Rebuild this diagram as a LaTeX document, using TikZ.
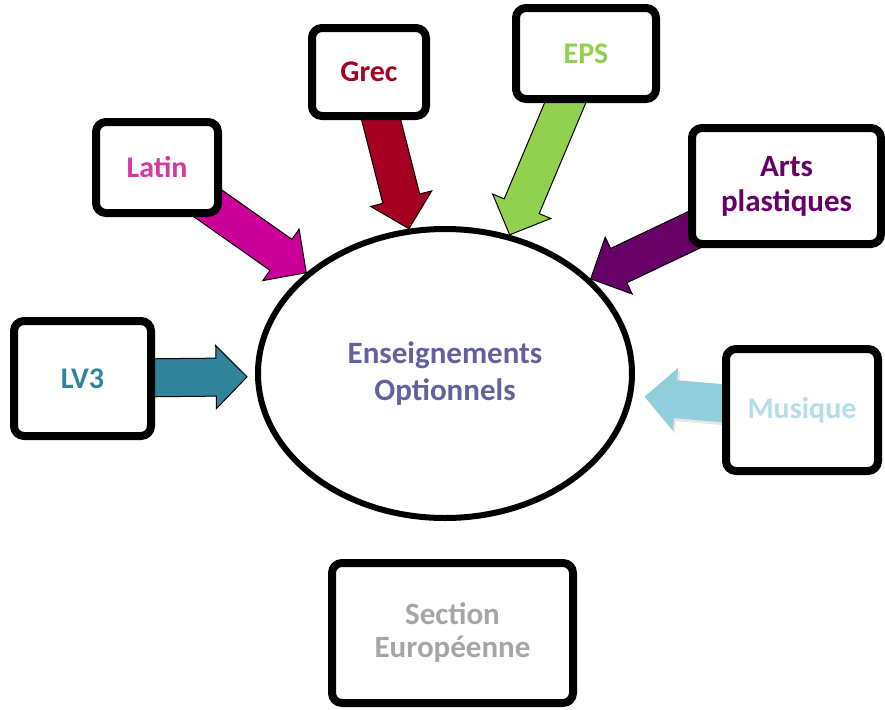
\documentclass[tikz,border=0pt]{standalone}
\usepackage{fontspec}
\setmainfont{Carlito}
\usetikzlibrary{calc,shapes.geometric,shadows}

\definecolor{latin}{RGB}{204,0,153}
\definecolor{latintxt}{RGB}{214,56,160}
\definecolor{grec}{RGB}{165,0,33}
\definecolor{eps}{RGB}{146,208,80}
\definecolor{arts}{RGB}{102,0,102}
\definecolor{lvtrois}{RGB}{49,133,155}
\definecolor{musique}{RGB}{146,205,220}
\definecolor{musiquetxt}{RGB}{183,222,232}
\definecolor{section}{RGB}{166,166,166}
\definecolor{ens}{RGB}{100,98,158}

\pgfdeclarelayer{front}
\pgfsetlayers{main,front}

\tikzset{
  boite/.style={draw, line width=4pt, rounded corners=5pt, fill=white,
    inner sep=0pt, align=center, font=\fontsize{15}{18}\selectfont\bfseries},
  centre/.style={ellipse, draw, line width=3pt, fill=white, inner sep=0pt,
    minimum width=187pt, minimum height=144.5pt, align=center, text=ens,
    font=\fontsize{15.5}{17.5}\selectfont\bfseries},
}

% block arrow: [options]{from}{tip}{colour}
\newcommand{\fleche}[4][draw=black]{%
  \path (#2) coordinate (a) (#3) coordinate (b);
  \path ($(b)!15.5pt!(a)$) coordinate (h);
  \filldraw[fill=#4, line width=0.5pt, #1]
    ($(a)!9.5pt!90:(b)$) -- ($(h)!9.5pt!90:(b)$) -- ($(h)!15.75pt!90:(b)$)
    -- (b) -- ($(h)!15.75pt!-90:(b)$) -- ($(h)!9.5pt!-90:(b)$)
    -- ($(a)!9.5pt!-90:(b)$) -- cycle;
}

\begin{document}
\begin{tikzpicture}[x=0.5pt,y=-0.5pt]
  \useasboundingbox (0,0) rectangle (885,709);
  \node[centre] (ensopt) at (445,373.5) {Enseignements\\[1pt]Optionnels};
  \begin{pgfonlayer}{front}
    \node[boite, minimum width=61pt, minimum height=45.5pt, text=latintxt] (latinbox) at (157,167.5) {Latin};
    \node[boite, minimum width=57pt, minimum height=44pt, text=grec] (grecbox) at (369,72) {Grec};
    \node[boite, minimum width=70pt, minimum height=45.5pt, text=eps] (epsbox) at (586,53.5) {EPS};
    \node[boite, minimum width=94.5pt, minimum height=58pt, text=arts, font=\fontsize{15.5}{17.5}\selectfont\bfseries] (artsbox) at (786.5,186) {Arts\\plastiques};
    \node[boite, minimum width=68.5pt, minimum height=57.5pt, text=lvtrois] (lvbox) at (82.5,378.5) {LV3};
    \node[boite, minimum width=76pt, minimum height=61pt, text=musiquetxt] (musbox) at (802,410) {Musique};
    \node[boite, minimum width=120.5pt, minimum height=70pt, text=section, font=\fontsize{15.5}{16.5}\selectfont\bfseries] (secbox) at (452.5,633) {Section\\Européenne};
  \end{pgfonlayer}
  \fleche{latinbox.center}{ensopt.144}{latin}
  \fleche{grecbox.center}{ensopt.104}{grec}
  \fleche{epsbox.center}{ensopt.65}{eps}
  \fleche{artsbox.center}{ensopt.33}{arts}
  \fleche{lvbox.center}{[xshift=-4pt]ensopt.181}{lvtrois}
  \fleche[draw=none, drop shadow={opacity=0.2, shadow xshift=1pt, shadow yshift=-1.5pt}]{musbox.center}{[xshift=6pt]ensopt.353}{musique}
\end{tikzpicture}
\end{document}
